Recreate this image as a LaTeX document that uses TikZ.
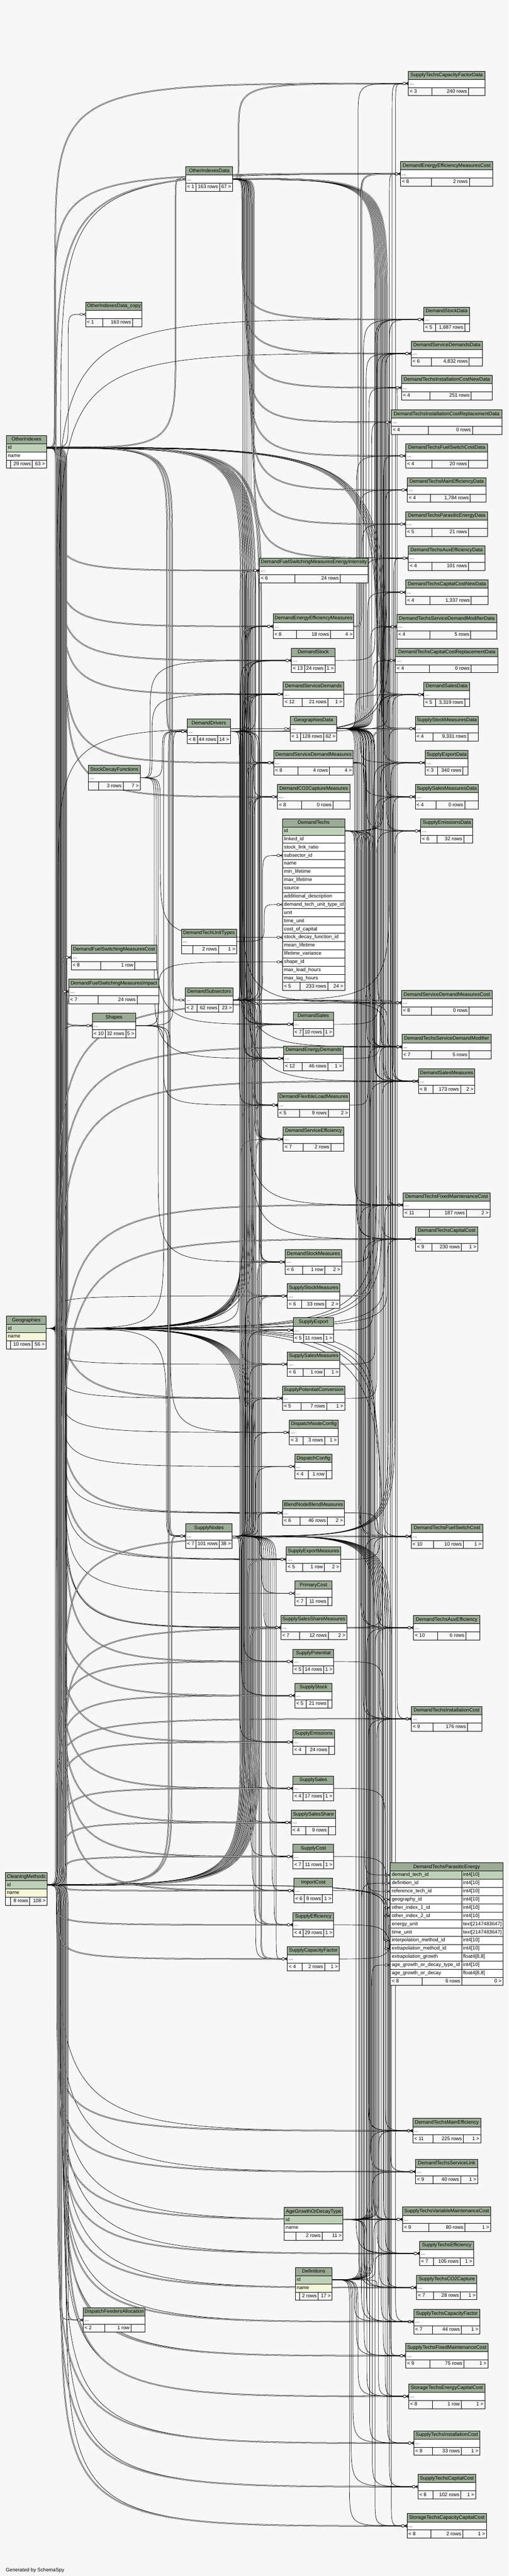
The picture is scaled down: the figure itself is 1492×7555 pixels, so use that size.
\documentclass[tikz,border=0pt]{standalone}
\usepackage{fontspec}
\setmainfont{Liberation Sans}
\usetikzlibrary{calc}
\definecolor{bgc}{HTML}{F7F7F7}
\definecolor{hdr}{HTML}{9BAB96}
\definecolor{pkc}{HTML}{BED1B8}
\definecolor{idx}{HTML}{F4F7DA}
\pgfdeclarelayer{pagebg}
\pgfdeclarelayer{edges}
\pgfsetlayers{pagebg,edges,main}
\newcommand\tf{\fontsize{14.6}{17}\selectfont}
\tikzset{
 txt/.style={inner sep=0pt, font=\tf, text=black},
 cell/.style={draw=black, line width=0.8pt},
 frame/.style={draw=black, line width=1.5pt, inner sep=0pt, outer sep=0pt},
 fkl/.style={draw=black, line width=1.05pt},
 fkd/.style={draw=black, line width=0.95pt, double=bgc, double distance=1.5pt},
 crow/.style={draw=black, line width=0.9pt, fill=bgc},
}
% compact table: id, x1, x2, ytop, title, body, f1, f2, f3
\newcommand\tb[9]{%
 \pgfmathsetmacro\tbwA{width("#7")+10}%
 \pgfmathsetmacro\tbwB{width("#8")+10}%
 \pgfmathsetmacro\tbwC{width("#9")+10}%
 \pgfmathsetmacro\tbex{(#3-#2-\tbwA-\tbwB-\tbwC)/3}%
 \pgfmathsetmacro\tbdA{#2+\tbwA+\tbex}%
 \pgfmathsetmacro\tbdB{\tbdA+\tbwB+\tbex}%
 \fill[hdr] (#2,-#4) rectangle (#3,-#4-24);
 \fill[white] (#2,-#4-24) rectangle (#3,-#4-48);
 \fill[bgc] (#2,-#4-48) rectangle (#3,-#4-72);
 \draw[cell] (#2,-#4-24) -- (#3,-#4-24) (#2,-#4-48) -- (#3,-#4-48) (\tbdA,-#4-48) -- (\tbdA,-#4-72) (\tbdB,-#4-48) -- (\tbdB,-#4-72);
 \node[txt,anchor=mid] at ({(#2+#3)/2},-#4-12) {#5};
 \node[txt,anchor=mid west] at (#2+4,-#4-36) {#6};
 \node[txt,anchor=mid west] at (#2+4,-#4-60) {#7};
 \node[txt,anchor=mid east] at (\tbdB-4,-#4-60) {#8};
 \node[txt,anchor=mid east] at (#3-4,-#4-60) {#9};
 \node[frame,minimum width={#3-#2},minimum height=72,anchor=north west] (#1) at (#2,-#4) {};
 \coordinate (#1-i) at (#2,-#4-36);
 \coordinate (#1-o) at (#3,-#4-36);
}
% parent table with id/name: id, x1, x2, ytop, title, namecolor, f2, f3
\newcommand\tp[8]{%
 \pgfmathsetmacro\tbwA{10}%
 \pgfmathsetmacro\tbwB{width("#7")+10}%
 \pgfmathsetmacro\tbwC{width("#8")+10}%
 \pgfmathsetmacro\tbex{(#3-#2-\tbwA-\tbwB-\tbwC)/3}%
 \pgfmathsetmacro\tbdA{#2+\tbwA+\tbex}%
 \pgfmathsetmacro\tbdB{\tbdA+\tbwB+\tbex}%
 \fill[hdr] (#2,-#4) rectangle (#3,-#4-24);
 \fill[pkc] (#2,-#4-24) rectangle (#3,-#4-48);
 \fill[#6] (#2,-#4-48) rectangle (#3,-#4-72);
 \fill[bgc] (#2,-#4-72) rectangle (#3,-#4-96);
 \draw[cell] (#2,-#4-24) -- (#3,-#4-24) (#2,-#4-48) -- (#3,-#4-48) (#2,-#4-72) -- (#3,-#4-72) (\tbdA,-#4-72) -- (\tbdA,-#4-96) (\tbdB,-#4-72) -- (\tbdB,-#4-96);
 \node[txt,anchor=mid] at ({(#2+#3)/2},-#4-12) {#5};
 \node[txt,anchor=mid west] at (#2+4,-#4-36) {id};
 \node[txt,anchor=mid west] at (#2+4,-#4-60) {name};
 \node[txt,anchor=mid east] at (\tbdB-4,-#4-84) {#7};
 \node[txt,anchor=mid east] at (#3-4,-#4-84) {#8};
 \node[frame,minimum width={#3-#2},minimum height=96,anchor=north west] (#1) at (#2,-#4) {};
 \coordinate (#1-o) at (#3,-#4-36);
}
% connector: style, parent coord, child coord, channel x
\newcommand\fkbase[4]{%
 \draw[#1] let \p1=(#2), \p2=(#3),
   \n1={min(abs(\y2-\y1)/2,max(80,0.8*abs(#4-\x1)))},
   \n5={min(abs(\y2-\y1)/2,max(80,0.8*abs(\x2-17-#4)))},
   \n2={(\y2<\y1)?-1:1},
   \n3={\y1+(\n2)*(\n1)},
   \n4={\y2-(\n2)*(\n5)} in
   (\p1) .. controls (#4,\y1) .. (#4,\n3) -- (#4,\n4) .. controls (#4,\y2) .. (\x2-17,\y2);
 \draw[crow] let \p2=(#3) in
   (\x2-12.5,\y2) ellipse [x radius=4.5pt, y radius=3.5pt]
   (\x2-8,\y2) -- (\x2,\y2+4) (\x2-8,\y2) -- (\x2,\y2) (\x2-8,\y2) -- (\x2,\y2-4);
}
\newcommand\fk[3]{\fkbase{fkl}{#1}{#2}{#3}}
\newcommand\fkd[3]{\fkbase{fkd}{#1}{#2}{#3}}

\begin{document}
\begin{tikzpicture}[x=1pt,y=1pt]
\tf
\useasboundingbox (0,0) rectangle (1492,-7555);
\begin{pgfonlayer}{pagebg}
\fill[bgc] (0,0) rectangle (1492,-7555);
\end{pgfonlayer}

% ---------- parent tables (left / bottom) ----------
\tp{OI}{19}{136}{1277}{OtherIndexes}{white}{29 rows}{63 >}
\tp{GEO}{19}{135}{3860}{Geographies}{idx}{10 rows}{56 >}
\tp{CM}{16}{138}{5492}{CleaningMethods}{idx}{8 rows}{108 >}
\tp{AGD}{834}{1006}{6474}{AgeGrowthOrDecayType}{white}{2 rows}{11 >}
\tp{DEF}{866}{974}{6650}{Definitions}{idx}{2 rows}{17 >}

% ---------- middle tables ----------
\tb{OID}{545}{682}{489}{OtherIndexesData}{...}{< 1}{163 rows}{67 >}
\tb{OIDc}{251}{417}{886}{OtherIndexesData\_copy}{}{< 1}{163 rows}{}
\tb{DFSMEI}{761}{1080}{1637}{DemandFuelSwitchingMeasuresEnergyIntensity}{...}{< 6}{24 rows}{}
\tb{DEEM}{801}{1038}{1801}{DemandEnergyEfficiencyMeasures}{...}{< 8}{18 rows}{4 >}
\tb{DS}{855}{983}{1901}{DemandStock}{...}{< 13}{24 rows}{1 >}
\tb{DSD}{831}{1008}{2000}{DemandServiceDemands}{...}{< 12}{21 rows}{1 >}
\tb{GD}{851}{988}{2101}{GeographiesData}{...}{< 1}{128 rows}{62 >}
\tb{DD}{549}{676}{2109}{DemandDrivers}{...}{< 8}{44 rows}{14 >}
\tb{DSDM}{803}{1036}{2201}{DemandServiceDemandMeasures}{...}{< 8}{4 rows}{4 >}
\tb{DCO2}{814}{1026}{2301}{DemandCO2CaptureMeasures}{...}{< 8}{0 rows}{}
\tb{SDF}{259}{411}{2245}{StockDecayFunctions}{...}{}{3 rows}{7 >}
\tb{DTUT}{532}{694}{2725}{DemandTechUnitTypes}{...}{}{2 rows}{1 >}
\tb{DFSMC}{209}{460}{2772}{DemandFuelSwitchingMeasuresCost}{...}{< 8}{1 row}{}
\tb{DFSMI}{202}{466}{2872}{DemandFuelSwitchingMeasuresImpact}{...}{< 7}{24 rows}{}
\tb{DSUB}{543}{684}{2897}{DemandSubsectors}{...}{< 2}{62 rows}{23 >}
\tb{SHP}{271}{398}{2972}{Shapes}{...}{< 10}{32 rows}{5 >}
\tb{DSAL}{860}{978}{2968}{DemandSales}{...}{< 7}{10 rows}{1 >}
\tb{DED}{832}{1007}{3068}{DemandEnergyDemands}{...}{< 12}{46 rows}{1 >}
\tb{DFLM}{815}{1025}{3205}{DemandFlexibleLoadMeasures}{...}{< 5}{9 rows}{2 >}
\tb{DSE}{831}{1008}{3305}{DemandServiceEfficiency}{...}{< 7}{2 rows}{}
\tb{DSM}{837}{1002}{3665}{DemandStockMeasures}{...}{< 6}{1 row}{2 >}
\tb{SSM}{843}{997}{3765}{SupplyStockMeasures}{...}{< 6}{33 rows}{2 >}
\tb{SEX}{860}{979}{3865}{SupplyExport}{...}{< 5}{11 rows}{1 >}
\tb{SSAM}{843}{997}{3965}{SupplySalesMeasures}{...}{< 6}{1 row}{1 >}
\tb{SPC}{829}{1011}{4065}{SupplyPotentialConversion}{...}{< 5}{7 rows}{1 >}
\tb{DNC}{849}{992}{4165}{DispatchNodeConfig}{...}{< 3}{3 rows}{1 >}
\tb{DC}{865}{974}{4265}{DispatchConfig}{...}{< 4}{1 row}{}
\tb{BNBM}{829}{1010}{4401}{BlendNodeBlendMeasures}{...}{< 6}{46 rows}{2 >}
\tb{SN}{545}{681}{4469}{SupplyNodes}{...}{< 7}{101 rows}{38 >}
\tb{SEM}{840}{999}{4537}{SupplyExportMeasures}{...}{< 5}{1 row}{2 >}
\tb{PC}{865}{974}{4637}{PrimaryCost}{...}{< 7}{11 rows}{}
\tb{SSSM}{824}{1017}{4737}{SupplySalesShareMeasures}{...}{< 7}{12 rows}{2 >}
\tb{SP}{859}{979}{4837}{SupplyPotential}{...}{< 5}{14 rows}{1 >}
\tb{SST}{865}{974}{4937}{SupplyStock}{...}{< 5}{21 rows}{}
\tb{SEMI}{859}{981}{5073}{SupplyEmissions}{...}{< 4}{24 rows}{}
\tb{SSA}{859}{979}{5209}{SupplySales}{...}{< 4}{17 rows}{1 >}
\tb{SSS}{854}{985}{5309}{SupplySalesShare}{...}{< 4}{9 rows}{}
\tb{SC}{859}{979}{5409}{SupplyCost}{...}{< 7}{11 rows}{1 >}
\tb{IC}{862}{976}{5509}{ImportCost}{...}{< 6}{9 rows}{1 >}
\tb{SEF}{859}{979}{5609}{SupplyEfficiency}{...}{< 4}{29 rows}{1 >}
\tb{SCF}{843}{995}{5709}{SupplyCapacityFactor}{...}{< 4}{2 rows}{1 >}
\tb{DFA}{244}{426}{6768}{DispatchFeedersAllocation}{...}{< 2}{1 row}{}

% ---------- right column ----------
\tb{STCFD}{1198}{1422}{209}{SupplyTechsCapacityFactorData}{...}{< 3}{240 rows}{}
\tb{DEEMC}{1175}{1445}{474}{DemandEnergyEfficiencyMeasuresCost}{...}{< 8}{2 rows}{}
\tb{DSTD}{1243}{1377}{901}{DemandStockData}{...}{< 5}{1,687 rows}{}
\tb{DSDD}{1206}{1415}{1001}{DemandServiceDemandsData}{...}{< 6}{4,832 rows}{}
\tb{DTICND}{1178}{1443}{1101}{DemandTechsInstallationCostNewData}{...}{< 4}{251 rows}{}
\tb{DTICRD}{1148}{1472}{1202}{DemandTechsInstallationCostReplacementData}{...}{< 4}{0 rows}{}
\tb{DTFSCD}{1190}{1430}{1301}{DemandTechsFuelSwitchCostData}{...}{< 4}{20 rows}{}
\tb{DTMED}{1195}{1425}{1401}{DemandTechsMainEfficiencyData}{...}{< 4}{1,784 rows}{}
\tb{DTPED}{1190}{1430}{1501}{DemandTechsParasiticEnergyData}{...}{< 5}{21 rows}{}
\tb{DTAED}{1198}{1422}{1601}{DemandTechsAuxEfficiencyData}{...}{< 4}{101 rows}{}
\tb{DTCCND}{1190}{1432}{1701}{DemandTechsCapitalCostNewData}{...}{< 4}{1,337 rows}{}
\tb{DTSDMD}{1164}{1457}{1802}{DemandTechsServiceDemandModifierData}{...}{< 4}{5 rows}{}
\tb{DTCCRD}{1160}{1461}{1901}{DemandTechsCapitalCostReplacementData}{...}{< 4}{0 rows}{}
\tb{DSALD}{1243}{1377}{2001}{DemandSalesData}{...}{< 5}{3,319 rows}{}
\tb{SSMD}{1218}{1403}{2101}{SupplyStockMeasuresData}{...}{< 4}{9,331 rows}{}
\tb{SEXD}{1247}{1373}{2201}{SupplyExportData}{...}{< 3}{340 rows}{}
\tb{SSAMD}{1218}{1403}{2301}{SupplySalesMeasuresData}{...}{< 4}{0 rows}{}
\tb{SEMD}{1234}{1387}{2401}{SupplyEmissionsData}{...}{< 6}{32 rows}{}
\tb{DSDMC}{1178}{1443}{2905}{DemandServiceDemandMeasuresCost}{...}{< 8}{0 rows}{}
\tb{DTSDM}{1179}{1441}{3034}{DemandTechsServiceDemandModifier}{...}{< 7}{5 rows}{}
\tb{DSAM}{1227}{1393}{3135}{DemandSalesMeasures}{...}{< 8}{173 rows}{2 >}
\tb{DTFMC}{1183}{1437}{3498}{DemandTechsFixedMaintenanceCost}{...}{< 11}{187 rows}{2 >}
\tb{DTCC}{1219}{1401}{3598}{DemandTechsCapitalCost}{...}{< 9}{230 rows}{1 >}
\tb{DTFSC}{1206}{1416}{4470}{DemandTechsFuelSwitchCost}{...}{< 10}{10 rows}{1 >}
\tb{DTAE}{1213}{1407}{4738}{DemandTechsAuxEfficiency}{...}{< 10}{6 rows}{}
\tb{DTIC}{1207}{1413}{5005}{DemandTechsInstallationCost}{...}{< 9}{176 rows}{}
\tb{DTME}{1211}{1410}{6213}{DemandTechsMainEfficiency}{...}{< 11}{225 rows}{1 >}
\tb{DTSL}{1219}{1401}{6333}{DemandTechsServiceLink}{...}{< 9}{40 rows}{1 >}
\tb{STVMC}{1181}{1439}{6473}{SupplyTechsVariableMaintenanceCost}{...}{< 9}{80 rows}{1 >}
\tb{STE}{1231}{1389}{6573}{SupplyTechsEfficiency}{...}{< 7}{105 rows}{1 >}
\tb{STCO2}{1222}{1399}{6673}{SupplyTechsCO2Capture}{...}{< 7}{28 rows}{1 >}
\tb{STCF}{1214}{1407}{6773}{SupplyTechsCapacityFactor}{...}{< 7}{44 rows}{1 >}
\tb{STFMC}{1190}{1431}{6873}{SupplyTechsFixedMaintenanceCost}{...}{< 9}{75 rows}{1 >}
\tb{SECC}{1199}{1422}{6992}{StorageTechsEnergyCapitalCost}{...}{< 8}{1 row}{1 >}
\tb{STIC}{1214}{1407}{7129}{SupplyTechsInstallationCost}{...}{< 8}{33 rows}{1 >}
\tb{STCC}{1226}{1395}{7257}{SupplyTechsCapitalCost}{}{< 8}{102 rows}{1 >}
\tb{SCCC}{1194}{1427}{7372}{StorageTechsCapacityCapitalCost}{...}{< 8}{2 rows}{1 >}

% ---------- DemandTechs (expanded) ----------
\fill[hdr] (829,-2401) rectangle (1011,-2425);
\fill[pkc] (829,-2425) rectangle (1011,-2449);
\fill[white] (829,-2449) rectangle (1011,-2881);
\fill[bgc] (829,-2881) rectangle (1011,-2905);
\foreach \k in {1,...,20} {\draw[cell] (829,-2401-24*\k) -- (1011,-2401-24*\k);}
\draw[cell] (880,-2881) -- (880,-2905) (961,-2881) -- (961,-2905);
\node[txt,anchor=mid] at (920,-2413) {DemandTechs};
\foreach \rn [count=\k] in {id,linked\_id,stock\_link\_ratio,subsector\_id,name,min\_lifetime,max\_lifetime,source,additional\_description,demand\_tech\_unit\_type\_id,unit,time\_unit,cost\_of\_capital,stock\_decay\_function\_id,mean\_lifetime,lifetime\_variance,shape\_id,max\_lead\_hours,max\_lag\_hours}
 {\node[txt,anchor=mid west] at (833,-2413-24*\k) {\rn};}
\node[txt,anchor=mid west] at (833,-2893) {< 5};
\node[txt,anchor=mid east] at (957,-2893) {233 rows};
\node[txt,anchor=mid east] at (1007,-2893) {24 >};
\node[frame,minimum width=182,minimum height=504,anchor=north west] (DT) at (829,-2401) {};
\coordinate (DT-o) at (1011,-2437);
\coordinate (DT-r4) at (829,-2509);
\coordinate (DT-r10) at (829,-2653);
\coordinate (DT-r14) at (829,-2749);
\coordinate (DT-r17) at (829,-2821);

% ---------- DemandTechsParasiticEnergy (expanded) ----------
\fill[hdr] (1145,-5463) rectangle (1475,-5487);
\fill[pkc] (1145,-5487) rectangle (1475,-5511);
\fill[white] (1145,-5511) rectangle (1475,-5799);
\fill[bgc] (1145,-5799) rectangle (1475,-5823);
\foreach \k in {1,...,14} {\draw[cell] (1145,-5463-24*\k) -- (1475,-5463-24*\k);}
\draw[cell] (1354,-5487) -- (1354,-5823) (1238,-5799) -- (1238,-5823);
\node[txt,anchor=mid] at (1310,-5475) {DemandTechsParasiticEnergy};
\foreach \rn/\rt [count=\k] in {demand\_tech\_id/{int4[10]},definition\_id/{int4[10]},reference\_tech\_id/{int4[10]},geography\_id/{int4[10]},other\_index\_1\_id/{int4[10]},other\_index\_2\_id/{int4[10]},energy\_unit/{text[2147483647]},time\_unit/{text[2147483647]},interpolation\_method\_id/{int4[10]},extrapolation\_method\_id/{int4[10]},extrapolation\_growth/{float4[8,8]},age\_growth\_or\_decay\_type\_id/{int4[10]},age\_growth\_or\_decay/{float4[8,8]}}
 {\node[txt,anchor=mid west] at (1149,-5475-24*\k) {\rn};
  \node[txt,anchor=mid west] at (1358,-5475-24*\k) {\rt};
  \coordinate (DTPE-r\k) at (1145,-5475-24*\k);}
\node[txt,anchor=mid west] at (1149,-5811) {< 8};
\node[txt,anchor=mid east] at (1350,-5811) {6 rows};
\node[txt,anchor=mid east] at (1471,-5811) {0 >};
\node[frame,minimum width=330,minimum height=360,anchor=north west] (DTPE) at (1145,-5463) {};

\node[txt,anchor=mid west] (gen) at (17,-7538) {Generated by SchemaSpy};

% ---------- connectors ----------
\begin{pgfonlayer}{edges}
\foreach \cc/\cx in {STCFD/162, DEEMC/160, OID/515, DFSMEI/165, DEEM/170, DS/176, DSD/182, DSDM/188, DCO2/194, DFSMC/172, DFSMI/178, SHP/184, DD/490, SN/498, DSUB/505, DSAL/730, DED/736, DFLM/742, DSE/748, DSM/712, SSM/718, SEX/724, SSAM/706, SPC/166, BNBM/174, SEM/180, SSSM/186, SP/192, SST/168, SEMI/171, SSA/177, SSS/183, SC/189, IC/195, SEF/760, SCF/766, DSDMC/1108, DTSDM/1116, DSAM/1124}
 {\fkd{OI-o}{\cc-i}{\cx}}
\fk{OI-o}{OIDc-i}{200}
\fk{OI-o}{DTPE-r5}{1130}
\fk{OI-o}{DTPE-r6}{1136}

\foreach \cc/\cx in {GD/170, DD/480, SN/488, DFA/175, DEEMC/178, DSTD/167, DSDD/173, DSDMC/1104, DTSDM/1112, DSAM/1120, DTFMC/1128, DTCC/1136, DTFSC/1098, DTAE/1106, DTIC/1114, DTME/165, DTSL/168, STVMC/171, STE/174, STCO2/177, STCF/180, STFMC/183, SECC/186, STIC/189, STCC/192, SCCC/195, DFSMEI/720, DEEM/725, DS/730, DSD/735, DSDM/740, DCO2/745, DFSMC/196, DFSMI/199, DSAL/750, DED/715, DFLM/710, DSE/705, DSM/700, SSM/166, SEX/169, SSAM/172, SPC/175, DNC/178, DC/181, BNBM/184, SEM/187, PC/190, SSSM/193, SP/710, SST/715, SEMI/720, SSA/725, SSS/730, SC/735, IC/740, SEF/745, SCF/750, SHP/182}
 {\fk{GEO-o}{\cc-i}{\cx}}
\fk{GEO-o}{DTPE-r4}{1122}

\foreach \cc/\cx in {DSDMC/170, DTSDM/174, DSAM/178, DTFMC/182, DTCC/186, DTFSC/190, DTAE/194, DTIC/166, DTME/168, DTSL/172, STVMC/176, STE/180, STCO2/184, STCF/188, STFMC/192, SECC/196, STIC/170, STCC/175, SCCC/180, DEEMC/164, DFSMEI/705, DEEM/710, DS/715, DSD/720, DSDM/725, DCO2/730, DSAL/735, DED/740, DFLM/745, DSE/750, DSM/755, SSM/760, SEX/708, SSAM/712, SPC/716, BNBM/722, SEM/728, SSSM/734, SP/172, SST/176, SEMI/180, SSA/184, SSS/188, SC/192, IC/196, SEF/168, SCF/174, DD/495, SN/503, DFSMC/185, DFSMI/190}
 {\fkd{CM-o}{\cc-i}{\cx}}
\fk{CM-o}{DTPE-r9}{1126}
\fk{CM-o}{DTPE-r10}{1132}
\fk{CM-o}{DFA-i}{200}

\foreach \cc/\cx in {STCFD/700, DEEMC/705, DSTD/710, DSDD/715, DTICND/720, DTICRD/725, DTFSCD/730, DTMED/735, DTPED/740, DTAED/745, DTCCND/1100, DTSDMD/1105, DTCCRD/1110, DSALD/1115, SSMD/1120, SEXD/1125, SSAMD/1130, SEMD/1135}
 {\fkd{OID-o}{\cc-i}{\cx}}
\foreach \cc/\cx in {DSDMC/712, DTSDM/718, DSAM/724, DTFMC/730, DTCC/736}
 {\fk{OID-o}{\cc-i}{\cx}}

\foreach \cc/\cx in {STCFD/1050, DEEMC/1058, DSTD/1066, DSDD/1074, DTICND/1082, DTICRD/1090, DTFSCD/1046, DTMED/1054, DTPED/1062, DTAED/1070, DTCCND/1078, DTSDMD/1086, DTCCRD/1094, DSALD/1042, SSMD/1050, SEXD/1058, SSAMD/1066, SEMD/1074, DSDMC/1082, DTSDM/1090, DSAM/1098, DTFMC/1040, DTCC/1048, DTFSC/1056, DTAE/1064, DTIC/1072, DTME/1080, DTSL/1088, STVMC/1096, STE/1044, STCO2/1052, STCF/1060, STFMC/1068, SECC/1076, STIC/1084, STCC/1092, SCCC/1100}
 {\fk{GD-o}{\cc-i}{\cx}}

\foreach \cc/\cx in {DTFMC/1040, DTCC/1046, DTAE/1058, DTIC/1064, DTME/1082, DTSDM/1094, DSAM/1100, DSTD/1106, DSALD/1112, DSDD/1118, DTSDMD/1124}
 {\fk{DT-o}{\cc-i}{\cx}}
\fkd{DT-o}{DTFSC-i}{1052}
\fkd{DT-o}{DTSL-i}{1088}
\fk{DT-o}{DTPE-r1}{1070}
\fk{DT-o}{DTPE-r3}{1076}

\foreach \cc/\cx in {DEEM/720, DS/726, DSD/732, DSDM/738, DCO2/744, DFSMEI/750, DED/714, DSAL/708, DFLM/702, DSE/756, DSM/762, DSDD/1130, DSALD/1136, DSTD/1142}
 {\fk{DD-o}{\cc-i}{\cx}}
\foreach \cc/\cx in {DS/440, DSD/446, DED/452, DSAL/458, DSM/464, DD/476}
 {\fk{SDF-o}{\cc-i}{\cx}}
\fk{SDF-o}{DT-r14}{470}
\foreach \cc/\cx in {DS/705, DSD/711, DED/717, DSAL/723, DEEM/729, DSDM/735, DCO2/741, DFLM/747, DSE/753, DFSMEI/759, DSM/765, DSAM/1130, DTSDM/1136, DEEMC/1142, DSDMC/1148}
 {\fk{DSUB-o}{\cc-i}{\cx}}
\fk{DSUB-o}{DT-r4}{770}
\fk{DTUT-o}{DT-r10}{775}
\foreach \cc/\cx in {DFLM/480, SN/492, DNC/500, DD/508}
 {\fk{SHP-o}{\cc-i}{\cx}}
\fk{SHP-o}{DT-r17}{465}

\foreach \cc/\cx in {SSM/720, SEX/726, SSAM/732, SPC/738, DNC/744, DC/750, BNBM/756, SEM/762, PC/768, SSSM/774, SP/714, SST/708, SEMI/702, SSA/780, SSS/786, SC/792, IC/798, SEF/804, SCF/810, STVMC/1100, STE/1106, STCO2/1112, STCF/1118, STFMC/1124, SECC/1130, STIC/1136, STCC/1142, SCCC/1148, SSMD/1140, SEXD/1146, SSAMD/1152, SEMD/1158}
 {\fk{SN-o}{\cc-i}{\cx}}

\foreach \cc/\cx in {DTFMC/1080, DTCC/1085, DTFSC/1095, DTAE/1100, DTIC/1105, DTME/1110, STVMC/1060, STE/1065, STCO2/1070, STCF/1075}
 {\fk{AGD-o}{\cc-i}{\cx}}
\fk{AGD-o}{DTPE-r12}{1090}
\foreach \cc/\cx in {DTFMC/1055, DTCC/1065, DTFSC/1070, DTAE/1075, DTIC/1080, DTME/1085, DTSL/1090, STVMC/1095, STE/1100, STCO2/1105, STCF/1040, STFMC/1045, SECC/1050, STIC/1035, STCC/1030, SCCC/1025}
 {\fk{DEF-o}{\cc-i}{\cx}}
\fk{DEF-o}{DTPE-r2}{1060}

% measures -> data
\fk{DS-o}{DSTD-i}{1100}
\fk{DSD-o}{DSDD-i}{1105}
\fk{DSAL-o}{DSALD-i}{1110}
\fk{DED-o}{DSDMC-i}{1115}
\fkd{DEEM-o}{DEEMC-i}{1060}
\fkd{DSDM-o}{DSDMC-i}{1070}
\fk{DSDM-o}{DTSDM-i}{1075}
\fk{DFLM-o}{DTSDM-i}{1080}
\fk{DSM-o}{DSAM-i}{1085}
\fkd{SSM-o}{SSMD-i}{1090}
\fk{SEX-o}{SEXD-i}{1095}
\fk{SSAM-o}{SSAMD-i}{1100}
\fk{SPC-o}{SEMD-i}{1105}
\fk{BNBM-o}{SECC-i}{1110}
\fk{SEM-o}{SEXD-i}{1115}
\fk{SSSM-o}{SSAMD-i}{1120}
\fk{SP-o}{STVMC-i}{1125}
\fk{SSA-o}{STE-i}{1130}
\fk{SC-o}{STCO2-i}{1135}
\fk{IC-o}{STCF-i}{1140}
\fk{SEF-o}{STFMC-i}{1145}
\fk{SCF-o}{STCFD-i}{1150}

% right column internal
\fk{DTCC-i}{DTCCND-i}{1120}
\fk{DTFSC-i}{DTFSCD-i}{1125}
\fk{DTME-i}{DTMED-i}{1130}
\fk{DTFMC-i}{DTCCRD-i}{1135}
\fk{DTFMC-i}{DTICRD-i}{1140}
\fk{DTSL-i}{DTSDMD-i}{1145}
\fk{DSAM-i}{DSALD-i}{1150}
\fk{DSAM-i}{DTAED-i}{1155}
\fk{STCF-i}{STCFD-i}{1160}
\fk{DTIC-i}{DTICND-i}{1165}
\end{pgfonlayer}
\end{tikzpicture}
\end{document}
